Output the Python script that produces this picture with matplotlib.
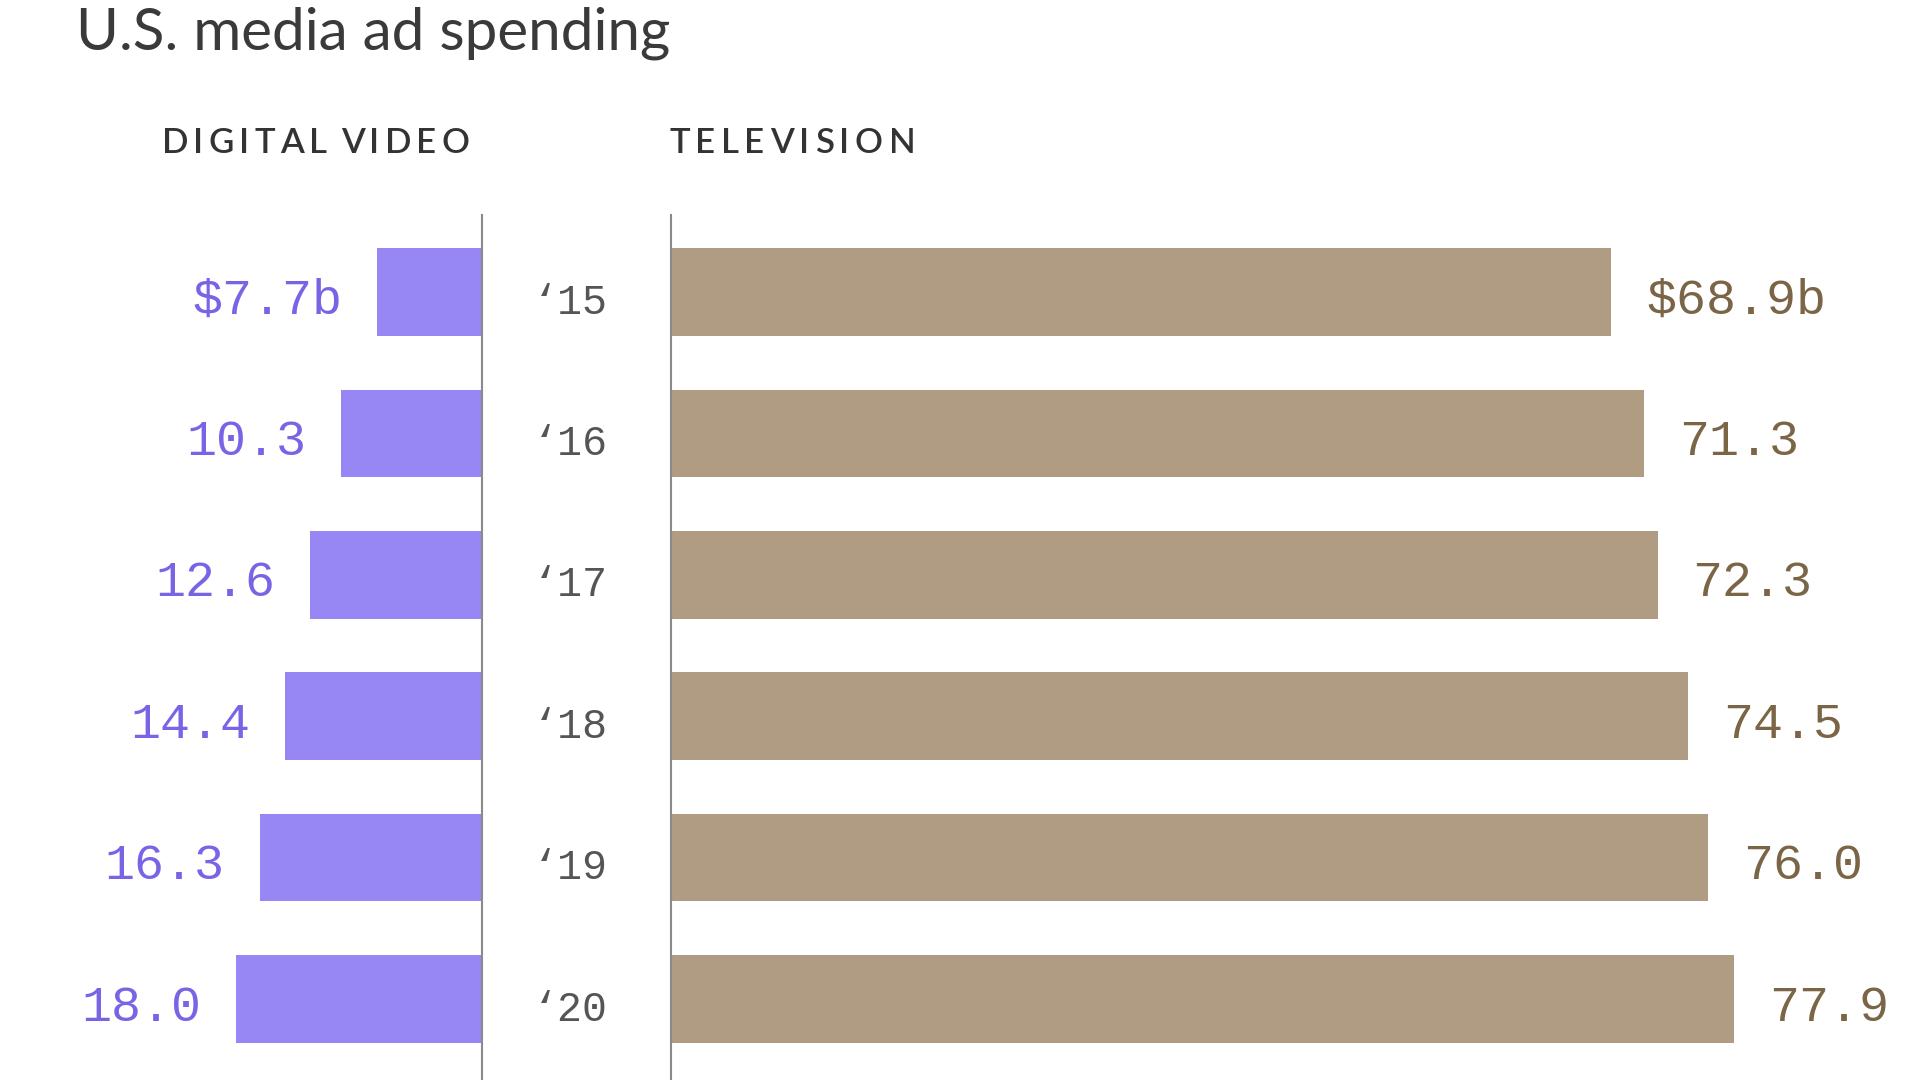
import numpy as np
import matplotlib
matplotlib.use("Agg")
import matplotlib.pyplot as plt
import matplotlib.transforms as mtransforms

# data ($ billions)
years = ["\u201815", "\u201816", "\u201817", "\u201818", "\u201819", "\u201820"]
digital_video = [7.7, 10.3, 12.6, 14.4, 16.3, 18.0]
television = [68.9, 71.3, 72.3, 74.5, 76.0, 77.9]
digital_labels = ["$7.7b", "10.3", "12.6", "14.4", "16.3", "18.0"]
tv_labels = ["$68.9b", "71.3", "72.3", "74.5", "76.0", "77.9"]

purple_bar = "#9787f5"
purple_text = "#7a64e6"
brown_bar = "#af9c83"
brown_text = "#7b6547"
axis_gray = "#8a8a8a"

W, H = 1920, 1080
fig = plt.figure(figsize=(19.2, 10.8), dpi=100)
fig.patch.set_facecolor("white")

# pixel layout
px_per_unit = 13.65
left_zero = 482
right_zero = 671
top_px = 215
row0, row_step = 292, 141.4

ylo = -(row0 - top_px) / row_step
yhi = 5 + (H - (row0 + 5 * row_step)) / row_step
ax_h = 1 - top_px / H

ax_l = fig.add_axes([0, 0, left_zero / W, ax_h])
ax_r = fig.add_axes([right_zero / W, 0, (W - right_zero) / W, ax_h])

ax_l.set_xlim(left_zero / px_per_unit, 0)
ax_r.set_xlim(0, (W - right_zero) / px_per_unit)

y = np.arange(len(years))
bar_h = 0.62
ax_l.barh(y, digital_video, height=bar_h, color=purple_bar)
ax_r.barh(y, television, height=bar_h, color=brown_bar)

mono = "Liberation Mono"
for ax in (ax_l, ax_r):
    ax.set_ylim(yhi, ylo)
    ax.set_xticks([])
    ax.set_yticks([])
    ax.set_facecolor("none")
    for s in ax.spines.values():
        s.set_visible(False)

ax_l.spines["right"].set_visible(True)
ax_l.spines["right"].set_color(axis_gray)
ax_l.spines["right"].set_linewidth(1.5)
ax_r.spines["left"].set_visible(True)
ax_r.spines["left"].set_color(axis_gray)
ax_r.spines["left"].set_linewidth(1.5)

# labels sit on a baseline a little below the bar centre
base_off = -15.5  # points

for i, (v, lab) in enumerate(zip(digital_video, digital_labels)):
    ax_l.annotate(lab, (v, i), xytext=(-25, base_off), textcoords="offset points",
                  ha="right", va="baseline", fontsize=36, family=mono,
                  color=purple_text)

for i, (v, lab) in enumerate(zip(television, tv_labels)):
    ax_r.annotate(lab, (v, i), xytext=(25, base_off), textcoords="offset points",
                  ha="left", va="baseline", fontsize=36, family=mono,
                  color=brown_text)

# year labels centred between the two panels
trans = mtransforms.blended_transform_factory(fig.transFigure, ax_r.transData)
mid_x = ((left_zero + right_zero) / 2 - 6) / W
for i, yr in enumerate(years):
    ax_r.annotate(yr, (mid_x, i), xycoords=trans, xytext=(0, base_off),
                  textcoords="offset points", ha="center", va="baseline",
                  fontsize=30, family=mono, color="#555555",
                  annotation_clip=False)

fig.text(76 / W, 1 - 50 / H, "U.S. media ad spending", fontsize=42,
         family="Lato", color="#3a3a3a", ha="left", va="baseline")


def tracked_text(x_px, y_px, s, track_px, space_px, **kw):
    # draw a string letter by letter with extra spacing
    renderer = fig.canvas.get_renderer()
    x = x_px
    for ch in s:
        if ch == " ":
            x += space_px
            continue
        t = fig.text(x / W, 1 - y_px / H, ch, ha="left", va="baseline", **kw)
        x += t.get_window_extent(renderer).width + track_px


hdr = dict(fontsize=25, family="Lato", color="#333333", weight="semibold")
tracked_text(162, 153, "DIGITAL VIDEO", 5.0, 9, **hdr)
tracked_text(669, 153, "TELEVISION", 5.5, 9, **hdr)

fig.savefig("out.png", dpi=100)
